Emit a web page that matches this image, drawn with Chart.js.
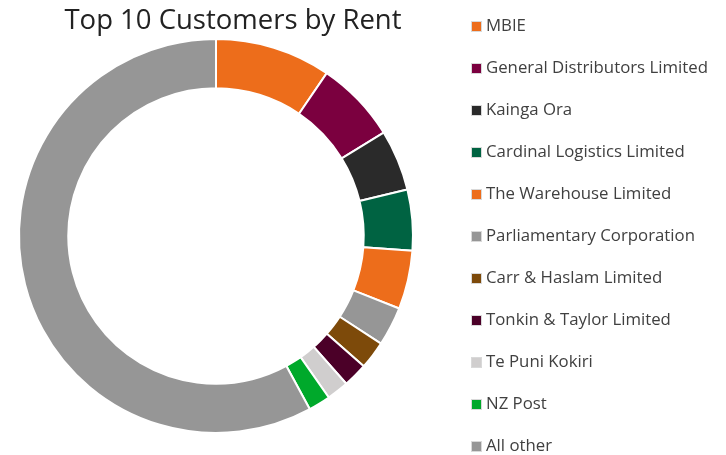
<!DOCTYPE html>
<html>
<head>
<meta charset="utf-8">
<script src="https://cdn.jsdelivr.net/npm/chart.js@4"></script>
<style>
  body { margin: 0; background: #fff; }
  #wrap { position: relative; width: 726px; height: 455px; overflow: hidden; }
  #rentChart { position: absolute; left: 0; top: 0; }
  #title {
    position: absolute; left: 0; width: 466px; top: 2px;
    text-align: center; font-family: "Open Sans", sans-serif; font-size: 27.5px;
    color: #222; line-height: 34px;
  }
  #legend { position: absolute; left: 471px; top: 4px; margin: 0; padding: 0; list-style: none; }
  #legend li {
    height: 42px; line-height: 42px; white-space: nowrap;
    font-family: "Open Sans", sans-serif; font-size: 16.8px; color: #404040;
  }
  #legend span.box {
    display: inline-block; width: 9px; height: 9px; border: 1px solid #d9d9d9;
    margin-right: 4px; vertical-align: -1px; box-sizing: content-box;
  }
</style>
</head>
<body>
<div id="wrap">
  <canvas id="rentChart" width="726" height="455"></canvas>
  <div id="title">Top 10 Customers by Rent</div>
  <ul id="legend"></ul>
</div>
<script>
// share of rent (%)
const customers = ['MBIE', 'General Distributors Limited', 'Kainga Ora', 'Cardinal Logistics Limited',
  'The Warehouse Limited', 'Parliamentary Corporation', 'Carr & Haslam Limited',
  'Tonkin & Taylor Limited', 'Te Puni Kokiri', 'NZ Post', 'All other'];
const rentShare = [9.5, 6.7, 5.0, 5.0, 4.8, 3.2, 2.3, 2.0, 1.8, 1.8, 57.9];
const sliceColors = ['#ED6D1B', '#7B003F', '#2A2A2A', '#006342', '#ED6D1B', '#969696',
  '#7D4A0A', '#4B0028', '#D0CECE', '#00A92B', '#969696'];

const ctx = document.getElementById('rentChart').getContext('2d');
const rentChart = new Chart(ctx, {
  type: 'doughnut',
  data: {
    labels: customers,
    datasets: [{
      data: rentShare,
      backgroundColor: sliceColors,
      borderColor: '#ffffff',
      borderWidth: 2
    }]
  },
  options: {
    responsive: false,
    animation: false,
    cutout: '75%',
    layout: { padding: { left: 18, right: 312, top: 38, bottom: 21 } },
    plugins: {
      legend: { display: false },
      tooltip: { enabled: false }
    }
  }
});

// HTML legend built from the chart's own labels
const items = rentChart.options.plugins.legend.labels.generateLabels(rentChart);
const ul = document.getElementById('legend');
items.forEach(item => {
  const li = document.createElement('li');
  const box = document.createElement('span');
  box.className = 'box';
  box.style.background = item.fillStyle;
  li.appendChild(box);
  li.appendChild(document.createTextNode(item.text));
  ul.appendChild(li);
});
</script>
</body>
</html>
